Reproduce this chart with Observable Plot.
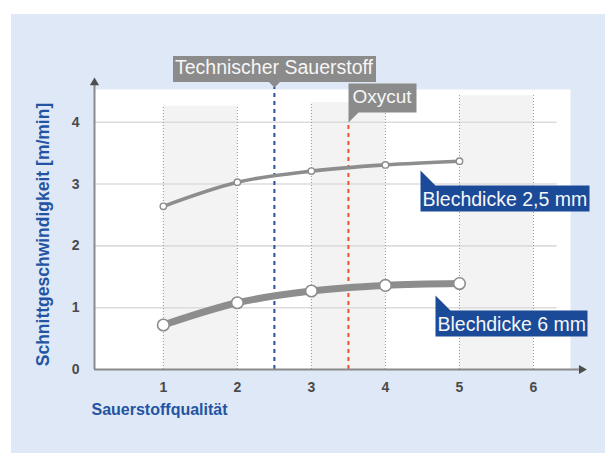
<!DOCTYPE html>
<html>
<head>
<meta charset="utf-8">
<script src="https://cdn.jsdelivr.net/npm/d3@7"></script>
<script src="https://cdn.jsdelivr.net/npm/@observablehq/plot@0.6"></script>
<style>
  body { margin: 0; background: #ffffff; }
  #wrap { position: relative; width: 605px; height: 453px; overflow: hidden; }
  #panel { position: absolute; left: 11px; top: 14px; right: 0; bottom: 0; background: #dfe8f7; }
  #chart { position: absolute; left: 0; top: 0; }
  .chart g[aria-label="tip"] text, .chart g[aria-label="tip"] tspan { fill: #f6f6f6; }
</style>
</head>
<body>
<div id="wrap"><div id="panel"></div><div id="chart"></div></div>
<script>
// ---- data ----
const quality = [1, 2, 3, 4, 5];
const speed25 = [2.64, 3.03, 3.21, 3.31, 3.37];   // Blechdicke 2,5 mm
const speed6  = [0.72, 1.08, 1.27, 1.36, 1.39];   // Blechdicke 6 mm
const xTicks = [1, 2, 3, 4, 5, 6];
const yTicks = [0, 1, 2, 3, 4];
const gridY = [1, 2, 3, 4];
const bandFrom = [1, 3, 5];
const bandTo = [2, 4, 6];
const bandTop = [4.26, 4.32, 4.43];
const techX = 2.5;        // Technischer Sauerstoff
const oxyX = 3.5;         // Oxycut
const yTitle = "Schnittgeschwindigkeit [m/min]";
const xTitle = "Sauerstoffqualität";
const labelTech = "Technischer Sauerstoff";
const labelOxy = "Oxycut";
const label25 = "Blechdicke 2,5 mm";
const label6 = "Blechdicke 6 mm";

// ---- tables built from the arrays ----
const s25 = quality.map((q, i) => ({q, v: speed25[i]}));
const s6 = quality.map((q, i) => ({q, v: speed6[i]}));
const bands = bandFrom.map((a, i) => ({x1: a, x2: bandTo[i], top: bandTop[i]}));
const vlines = xTicks.map((t) => ({x: t, top: bandTop[Math.min(2, Math.floor((t - 1) / 2))]}));

const xMin = 0.07, xMax = 6.5, yMax = 4.53;
const font = "Liberation Sans, Arial, sans-serif";
const lineGray = "#8d8d8d";

const tipStyle = {stroke: "none", pathFilter: "none", fontFamily: font};

const chart = Plot.plot({
  width: 605,
  height: 453,
  marginLeft: 94,
  marginRight: 35,
  marginTop: 89,
  marginBottom: 84,
  className: "chart",
  style: {background: "transparent", fontFamily: font, overflow: "visible"},
  x: {domain: [xMin, xMax], axis: null},
  y: {domain: [0, yMax], axis: null},
  marks: [
    Plot.frame({fill: "white", stroke: "none"}),
    Plot.rect(bands, {x1: "x1", x2: "x2", y1: 0, y2: "top", fill: "#f3f3f3"}),
    Plot.ruleY(gridY, {x1: xMin, x2: 6.32, stroke: "#dcdcdc", strokeWidth: 1.6}),
    Plot.ruleX(vlines, {x: "x", y1: 0, y2: "top", stroke: "#9a9a9a", strokeWidth: 1, strokeDasharray: "1,2"}),
    Plot.ruleX([techX], {y1: 0, y2: 4.57, stroke: "#2a4f9e", strokeWidth: 2, strokeDasharray: "4,4"}),
    Plot.ruleX([oxyX], {y1: 0, y2: 4.0, stroke: "#f0522c", strokeWidth: 2, strokeDasharray: "4,4"}),
    // axes lines with arrow heads
    Plot.ruleY([0], {x1: xMin, x2: 6.62, stroke: "#8a8a8a", strokeWidth: 2}),
    Plot.ruleX([xMin], {y1: 0, y2: 4.6, stroke: "#8a8a8a", strokeWidth: 2}),
    Plot.dot([0], {x: 6.65, y: 0, symbol: "triangle", r: 3.4, fill: "#4d4d4d", rotate: 90}),
    Plot.dot([0], {x: xMin, y: 4.64, symbol: "triangle", r: 3.4, fill: "#4d4d4d"}),
    Plot.axisX({ticks: xTicks, tickFormat: "d", tickSize: 0, tickPadding: 13, fontSize: 14, fontWeight: "bold", fill: "#4a4a4a", label: null}),
    Plot.axisY({ticks: yTicks, tickFormat: "d", tickSize: 0, tickPadding: 15, fontSize: 14, fontWeight: "bold", fill: "#4a4a4a", label: null}),
    // series
    Plot.line(s25, {x: "q", y: "v", stroke: lineGray, strokeWidth: 3.6, curve: "monotone-x"}),
    Plot.dot(s25, {x: "q", y: "v", r: 3.2, fill: "white", stroke: lineGray, strokeWidth: 1.4}),
    Plot.line(s6, {x: "q", y: "v", stroke: lineGray, strokeWidth: 7, curve: "monotone-x"}),
    Plot.dot(s6, {x: "q", y: "v", r: 5.8, fill: "white", stroke: lineGray, strokeWidth: 1.6}),
    // titles
    Plot.text([yTitle], {text: (d) => d, frameAnchor: "left", textAnchor: "middle", rotate: -90, dx: -51, dy: 5, fontSize: 17.5, fontWeight: "bold", fill: "#2354a3"}),
    Plot.text([xTitle], {text: (d) => d, frameAnchor: "bottom-left", textAnchor: "start", dx: -3, dy: 45, fontSize: 16, fontWeight: "bold", fill: "#2354a3"}),
    // callouts
    Plot.tip([labelTech], {x: techX, y: 4.57, title: (d) => d, anchor: "bottom", pointerSize: 11, textPadding: 2, fill: "#8b8b8b", fontSize: 19.5, ...tipStyle}),
    Plot.tip([labelOxy], {x: oxyX, y: 4.0, title: (d) => d, anchor: "bottom-left", pointerSize: 10, textPadding: 4, fill: "#8b8b8b", fontSize: 19, ...tipStyle}),
    Plot.tip([label25], {x: 4.48, y: 3.22, title: (d) => d, anchor: "top-left", pointerSize: 15, textPadding: 2, fill: "#1b4a99", fontSize: 19.5, ...tipStyle}),
    Plot.tip([label6], {x: 4.68, y: 1.2, title: (d) => d, anchor: "top-left", pointerSize: 15, textPadding: 2, fill: "#1b4a99", fontSize: 19.5, ...tipStyle})
  ]
});
document.getElementById("chart").appendChild(chart);
</script>
</body>
</html>
